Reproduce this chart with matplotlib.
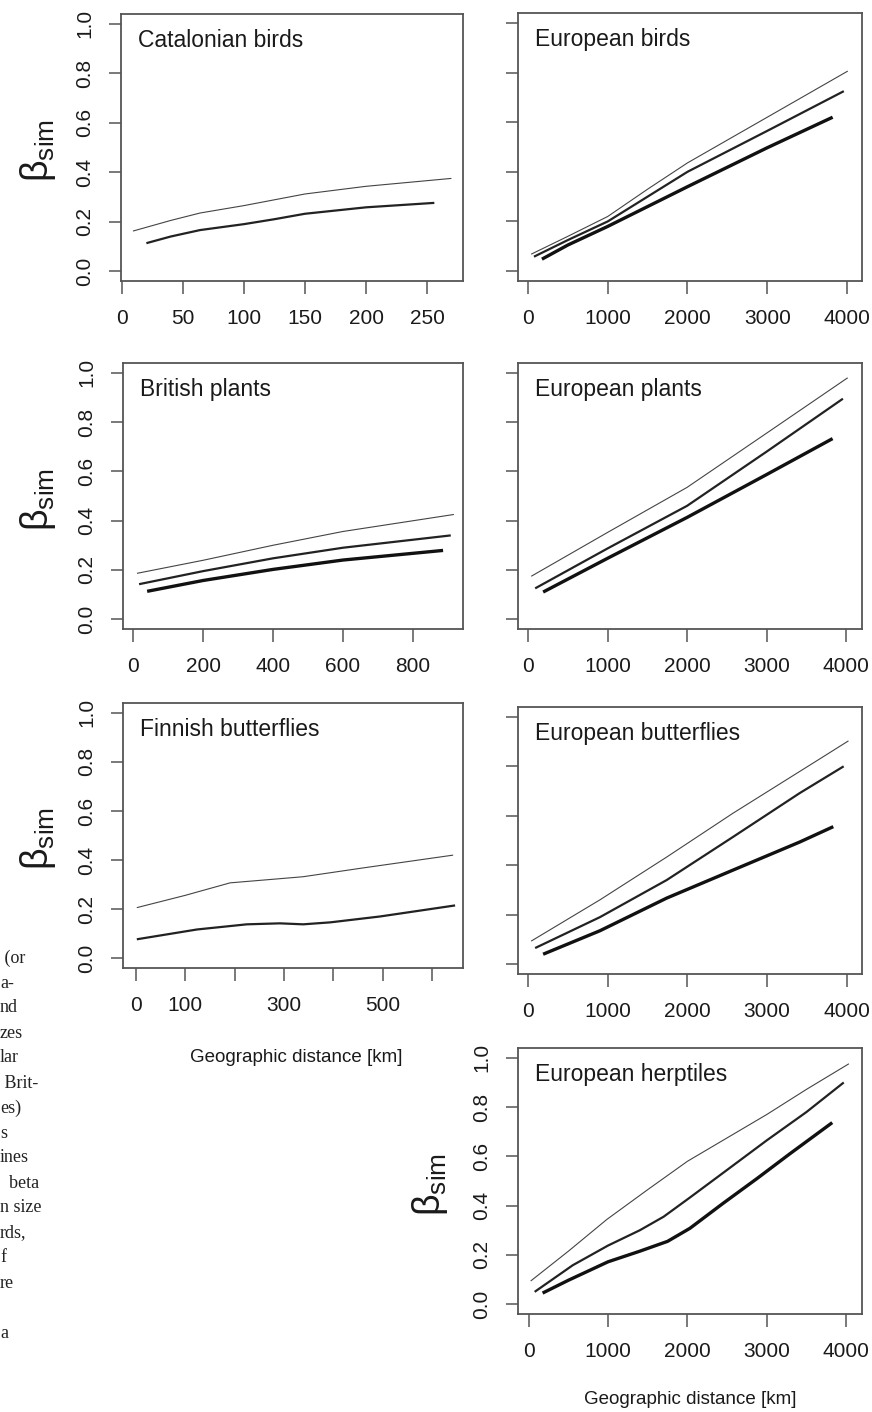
import matplotlib
matplotlib.use('Agg')
import matplotlib.pyplot as plt

W, H = 872, 1412

# --- data (x in km, y = beta_sim) ---
cat_thin_x = [9, 40, 64, 100, 150, 200, 270]
cat_thin_y = [0.162, 0.205, 0.235, 0.265, 0.312, 0.343, 0.375]
cat_thick_x = [20, 40, 64, 100, 125, 150, 200, 256]
cat_thick_y = [0.113, 0.14, 0.166, 0.19, 0.21, 0.232, 0.258, 0.276]

eb_thin_x = [40, 500, 1000, 1500, 2000, 3000, 4010]
eb_thin_y = [0.068, 0.14, 0.22, 0.33, 0.436, 0.62, 0.806]
eb_mid_x = [75, 500, 1000, 1500, 2000, 3000, 3960]
eb_mid_y = [0.058, 0.125, 0.20, 0.30, 0.40, 0.565, 0.725]
eb_thick_x = [175, 500, 1000, 1500, 2000, 3000, 3820]
eb_thick_y = [0.048, 0.105, 0.18, 0.26, 0.34, 0.497, 0.62]

bp_thin_x = [11, 200, 400, 600, 917]
bp_thin_y = [0.186, 0.239, 0.30, 0.356, 0.425]
bp_mid_x = [17, 200, 400, 600, 908]
bp_mid_y = [0.142, 0.195, 0.247, 0.29, 0.34]
bp_thick_x = [40, 200, 400, 600, 886]
bp_thick_y = [0.113, 0.157, 0.202, 0.24, 0.279]

ep_thin_x = [40, 1000, 2000, 3000, 4020]
ep_thin_y = [0.174, 0.352, 0.535, 0.755, 0.98]
ep_mid_x = [90, 1000, 2000, 3000, 3960]
ep_mid_y = [0.125, 0.287, 0.46, 0.68, 0.895]
ep_thick_x = [190, 1000, 2000, 3000, 3830]
ep_thick_y = [0.11, 0.247, 0.413, 0.587, 0.733]

fb_thin_x = [2, 100, 191, 292, 339, 461, 643]
fb_thin_y = [0.206, 0.256, 0.307, 0.324, 0.332, 0.368, 0.42]
fb_thick_x = [2, 124, 225, 292, 339, 394, 495, 647]
fb_thick_y = [0.077, 0.117, 0.138, 0.142, 0.138, 0.146, 0.17, 0.215]

ebf_thin_x = [40, 903, 1740, 2570, 3640, 4020]
ebf_thin_y = [0.093, 0.26, 0.433, 0.61, 0.826, 0.903]
ebf_mid_x = [90, 903, 1740, 2570, 3410, 3960]
ebf_mid_y = [0.065, 0.19, 0.34, 0.514, 0.692, 0.80]
ebf_thick_x = [190, 903, 1740, 2570, 3410, 3830]
ebf_thick_y = [0.04, 0.135, 0.267, 0.38, 0.494, 0.556]

eh_thin_x = [25, 500, 985, 1500, 2000, 2500, 3000, 3500, 4035]
eh_thin_y = [0.094, 0.215, 0.344, 0.465, 0.58, 0.675, 0.77, 0.872, 0.976]
eh_mid_x = [75, 555, 1000, 1400, 1700, 2032, 2500, 3000, 3500, 3970]
eh_mid_y = [0.05, 0.158, 0.238, 0.30, 0.355, 0.433, 0.545, 0.665, 0.78, 0.9]
eh_thick_x = [175, 500, 1000, 1400, 1750, 2032, 2448, 2877, 3293, 3825]
eh_thick_y = [0.045, 0.097, 0.172, 0.215, 0.255, 0.308, 0.409, 0.51, 0.611, 0.737]

yticks = [0.0, 0.2, 0.4, 0.6, 0.8, 1.0]
ytick_labels = ['0.0', '0.2', '0.4', '0.6', '0.8', '1.0']
euro_ticks = [0, 1000, 2000, 3000, 4000]
euro_labels = ['0', '1000', '2000', '3000', '4000']

caption_lines = [' (or', 'a-', 'nd', 'zes', 'lar', ' Brit-', 'es)', 's',
                 'ines', '  beta', 'n size', 'rds,', 'f', 're', '', 'a']

plt.rcParams['font.family'] = ['Liberation Sans', 'DejaVu Sans']
plt.rcParams['mathtext.fontset'] = 'custom'
plt.rcParams['mathtext.rm'] = 'Liberation Sans'
plt.rcParams['mathtext.it'] = 'Liberation Sans'
plt.rcParams['mathtext.default'] = 'regular'

fig = plt.figure(figsize=(W / 100, H / 100), dpi=100)

BOX = '#555555'
INK = '#1a1a1a'


def panel(box, xlim, xticks, xlabels, title, lines, ylabels=True):
    l, t, r, b = box
    ax = fig.add_axes([l / W, 1 - b / H, (r - l) / W, (b - t) / H])
    for xs, ys, lw, col in lines:
        ax.plot(xs, ys, color=col, lw=lw, solid_capstyle='butt',
                solid_joinstyle='round')
    ax.set_xlim(*xlim)
    ax.set_ylim(-0.04, 1.04)
    ax.set_xticks(xticks)
    ax.set_xticklabels(xlabels)
    ax.set_yticks(yticks)
    if ylabels:
        ax.set_yticklabels(ytick_labels, rotation=90, va='center')
    else:
        ax.set_yticklabels([])
    for s in ax.spines.values():
        s.set_color(BOX)
        s.set_linewidth(1.3)
    ax.tick_params(direction='out', length=9, width=1.1, color=BOX,
                   labelsize=15, labelcolor=INK)
    ax.tick_params(axis='x', pad=11)
    ax.tick_params(axis='y', pad=10)
    ax.text(0.05, 0.9, title, transform=ax.transAxes, fontsize=16.5,
            color=INK, ha='left', va='center')
    return ax


def three(tx, ty, mx, my, kx, ky):
    return [(tx, ty, 0.8, '#444444'), (mx, my, 1.6, '#222222'),
            (kx, ky, 2.4, '#111111')]


panel((121, 14, 463, 281), (-0.8, 279.5), [0, 50, 100, 150, 200, 250],
      ['0', '50', '100', '150', '200', '250'], 'Catalonian birds',
      [(cat_thin_x, cat_thin_y, 0.8, '#444444'),
       (cat_thick_x, cat_thick_y, 1.6, '#222222')])
panel((518, 13, 862, 281), (-125, 4188), euro_ticks, euro_labels,
      'European birds',
      three(eb_thin_x, eb_thin_y, eb_mid_x, eb_mid_y, eb_thick_x, eb_thick_y),
      ylabels=False)

panel((123, 363, 463, 629), (-29, 943), [0, 200, 400, 600, 800],
      ['0', '200', '400', '600', '800'], 'British plants',
      three(bp_thin_x, bp_thin_y, bp_mid_x, bp_mid_y, bp_thick_x, bp_thick_y))
panel((518, 363, 862, 629), (-126, 4200), euro_ticks, euro_labels,
      'European plants',
      three(ep_thin_x, ep_thin_y, ep_mid_x, ep_mid_y, ep_thick_x, ep_thick_y),
      ylabels=False)

panel((123, 703, 463, 968), (-26, 663), [0, 100, 200, 300, 400, 500, 600],
      ['0', '100', '', '300', '', '500', ''], 'Finnish butterflies',
      [(fb_thin_x, fb_thin_y, 0.8, '#444444'),
       (fb_thick_x, fb_thick_y, 1.6, '#222222')])
panel((518, 707, 862, 974), (-125, 4190), euro_ticks, euro_labels,
      'European butterflies',
      three(ebf_thin_x, ebf_thin_y, ebf_mid_x, ebf_mid_y,
            ebf_thick_x, ebf_thick_y),
      ylabels=False)

panel((518, 1048, 862, 1314), (-135, 4200), euro_ticks, euro_labels,
      'European herptiles',
      three(eh_thin_x, eh_thin_y, eh_mid_x, eh_mid_y, eh_thick_x, eh_thick_y))

# y labels (beta_sim)
for x, y in [(38, 150), (38, 499), (38, 838), (430, 1184)]:
    fig.text(x / W, 1 - y / H, r'$\beta_{sim}$', rotation=90,
             fontsize=27, ha='center', va='center', color=INK)

# x labels
fig.text(296 / W, 1 - 1057 / H, 'Geographic distance [km]', fontsize=13.5,
         ha='center', va='center', color=INK)
fig.text(690 / W, 1 - 1400 / H, 'Geographic distance [km]', fontsize=13.5,
         ha='center', va='center', color=INK)

# cut-off caption text on the left margin
for i, s in enumerate(caption_lines):
    fig.text(0, 1 - (958 + 25 * i) / H, s, fontsize=13,
             family=['Liberation Serif', 'DejaVu Serif'],
             ha='left', va='center', color='#222222')

fig.savefig('out.png', dpi=100)
